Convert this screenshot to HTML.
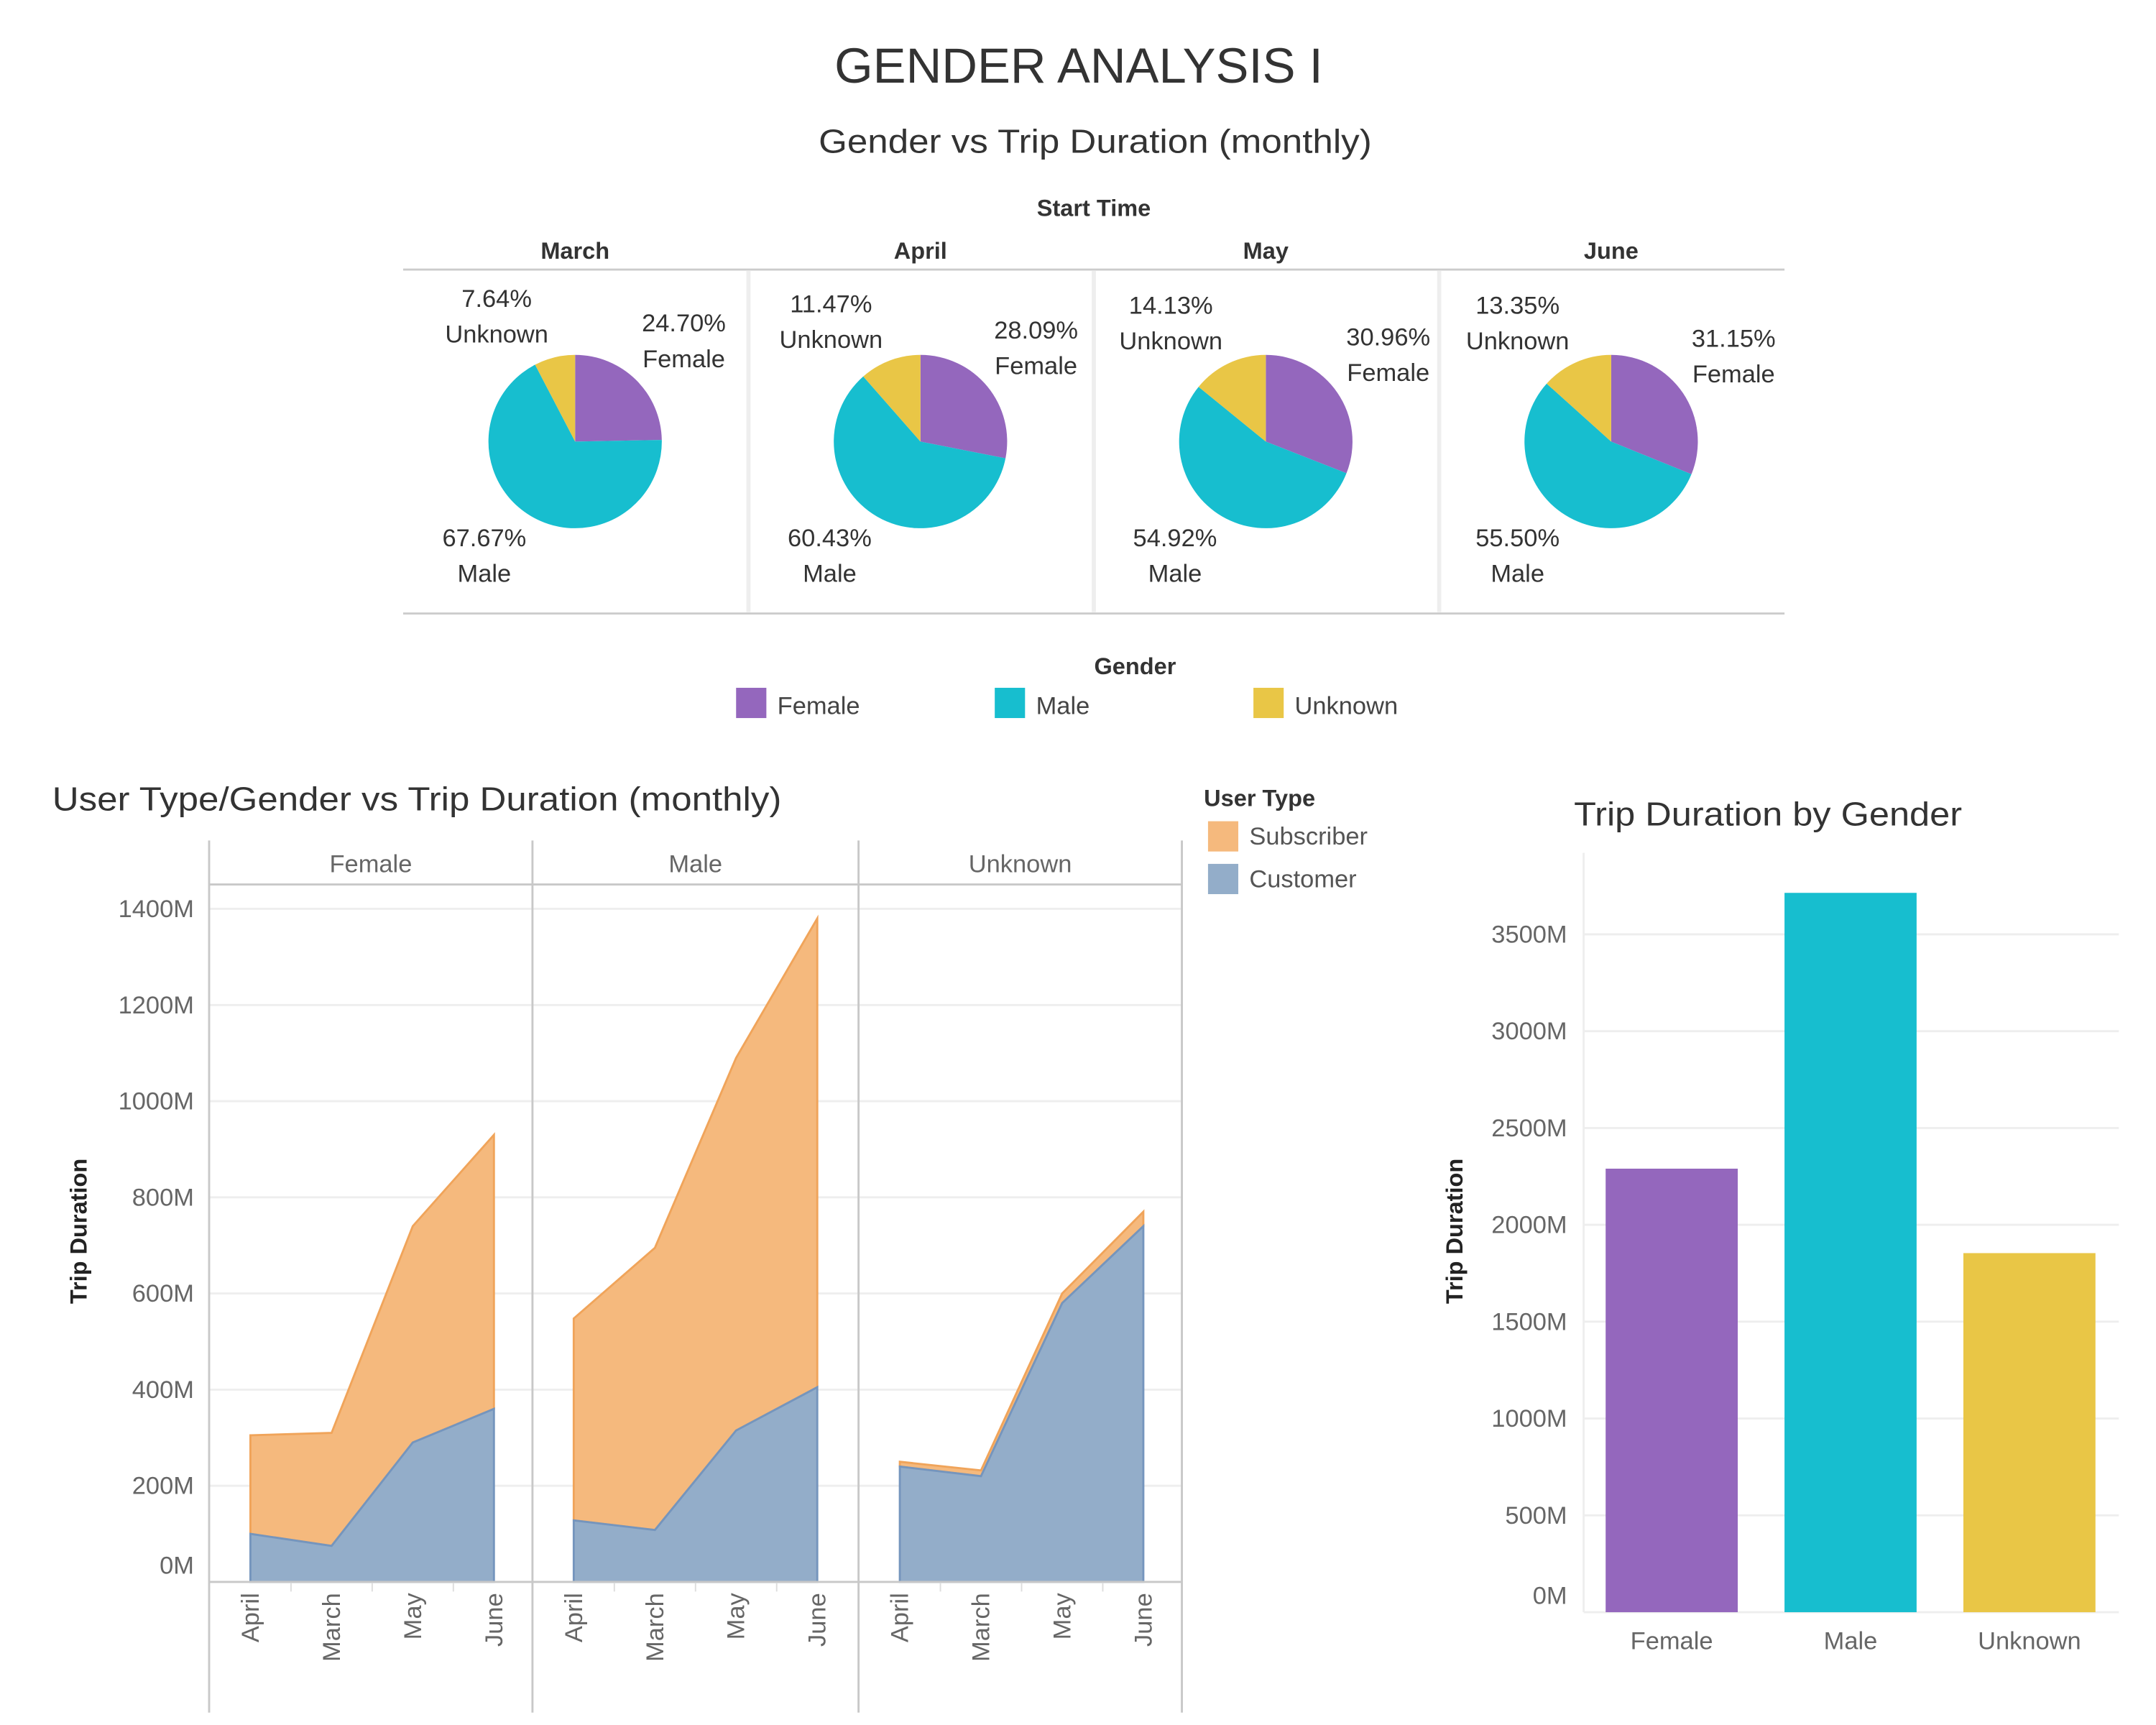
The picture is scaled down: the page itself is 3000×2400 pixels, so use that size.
<!DOCTYPE html>
<html><head><meta charset="utf-8"><style>
html,body{margin:0;padding:0;background:#fff;}
svg{display:block;font-family:"Liberation Sans",sans-serif;}
</style></head><body>
<svg id="s" width="3000" height="2400" viewBox="0 0 1567 1254" preserveAspectRatio="none" xmlns="http://www.w3.org/2000/svg">
<text x="784" y="60" text-anchor="middle" font-size="36" fill="#333" textLength="355" lengthAdjust="spacingAndGlyphs">GENDER ANALYSIS I</text>
<text x="796" y="111" text-anchor="middle" font-size="24" fill="#333" textLength="402" lengthAdjust="spacingAndGlyphs">Gender vs Trip Duration (monthly)</text>
<text x="795" y="157" text-anchor="middle" font-size="17" font-weight="bold" fill="#333">Start Time</text>
<g id="pies"></g>
<text x="825" y="490" text-anchor="middle" font-size="17" font-weight="bold" fill="#333">Gender</text>
<g>
<rect x="535" y="500" width="22" height="22" fill="#9467bd"/>
<text x="565" y="519" font-size="18" fill="#444">Female</text>
<rect x="723" y="500" width="22" height="22" fill="#17becf"/>
<text x="753" y="519" font-size="18" fill="#444">Male</text>
<rect x="911" y="500" width="22" height="22" fill="#e9c646"/>
<text x="941" y="519" font-size="18" fill="#444">Unknown</text>
</g>
<text x="38" y="589" font-size="24" fill="#333" textLength="530" lengthAdjust="spacingAndGlyphs">User Type/Gender vs Trip Duration (monthly)</text>
<g id="area"></g>
<text x="875" y="586" font-size="17" font-weight="bold" fill="#333">User Type</text>
<rect x="878" y="597" width="22" height="22" fill="#f5b97d"/>
<text x="908" y="614" font-size="18" fill="#555">Subscriber</text>
<rect x="878" y="628" width="22" height="22" fill="#93adc9"/>
<text x="908" y="645" font-size="18" fill="#555">Customer</text>
<text x="1285" y="600" text-anchor="middle" font-size="24" fill="#333" textLength="282" lengthAdjust="spacingAndGlyphs">Trip Duration by Gender</text>
<g id="bars"></g>
</svg>
<script>
const pieMonths=["March","April","May","June"];
const pieFemale=[24.70,28.09,30.96,31.15];
const pieMale=[67.67,60.43,54.92,55.50];
const pieUnknown=[7.64,11.47,14.13,13.35];

const areaGenders=["Female","Male","Unknown"];
const areaMonths=["April","March","May","June"];
const customerVals=[[100,75,290,360],[128,108,315,405],[240,220,580,740]];
const subscriberVals=[[205,235,450,570],[420,587,775,975],[10,12,20,30]];
const areaTicks=[0,200,400,600,800,1000,1200,1400];

const barCats=["Female","Male","Unknown"];
const barVals=[2290,3714,1854];
const barTicks=[0,500,1000,1500,2000,2500,3000,3500];

const NS="http://www.w3.org/2000/svg";
function mk(tag,attrs,parent,txt){const e=document.createElementNS(NS,tag);for(const k in attrs)e.setAttribute(k,attrs[k]);if(txt!==undefined)e.textContent=txt;parent.appendChild(e);return e;}

// Pies
const pg=document.getElementById('pies');
let l=mk('line',{x1:293,y1:196,x2:1297,y2:196,stroke:'#ccc','stroke-width':1.5},pg);


l=mk('line',{x1:293,y1:446,x2:1297,y2:446,stroke:'#ccc','stroke-width':1.5},pg);


const pieColors=["#9467bd","#17becf","#e9c646"];
const labelOff=[[[-57,-98],[79,-80],[-66,76]],[[-65,-94],[84,-75],[-66,76]],[[-69,-93],[89,-70],[-66,76]],[[-68,-93],[89,-69],[-68,76]]];
pieMonths.forEach((m,i)=>{
  const cx=418+i*251, cy=321, r=63;
  if(i>0){const s=mk('line',{x1:293+i*251,y1:197,x2:293+i*251,y2:445,stroke:'#eee','stroke-width':3},pg);
    
    }
  const h=mk('text',{x:cx,y:188,'text-anchor':'middle','font-size':17,'font-weight':'bold',fill:'#333'},pg,m);
  
  
  const vals=[pieFemale[i],pieMale[i],pieUnknown[i]];
  const tot=vals.reduce((a,b)=>a+b,0);
  let a0=0;
  vals.forEach((v,k)=>{
    const a1=a0+v/tot*2*Math.PI;
    const x0=cx+r*Math.sin(a0),y0=cy-r*Math.cos(a0),x1=cx+r*Math.sin(a1),y1=cy-r*Math.cos(a1);
    const p=mk('path',{d:`M${cx},${cy}L${x0},${y0}A${r},${r} 0 ${a1-a0>Math.PI?1:0} 1 ${x1},${y1}Z`,fill:pieColors[k]},pg);
    
    
    a0=a1;
  });
  const names=["Female","Male","Unknown"];
  [[2,0],[0,1],[1,2]].forEach(([k,o])=>{
    const off=labelOff[i][o];
    const t1=mk('text',{x:cx+off[0],y:cy+off[1],'text-anchor':'middle','font-size':18,fill:'#333'},pg,vals[k].toFixed(2)+'%');
    
    
    const t2=mk('text',{x:cx+off[0],y:cy+off[1]+26,'text-anchor':'middle','font-size':18,fill:'#333'},pg,names[k]);
    
    
  });
});

// Area chart
const ag=document.getElementById('area');
const y0px=1150, perM=69.9/200;
const yA=v=>y0px-v*perM;
const panelX=[152,387,624,859];
areaTicks.forEach(t=>{
  const g=mk('line',{x1:152,x2:859,y1:yA(t),y2:yA(t),stroke:'#eee','stroke-width':1.5},ag);
  
  
  const tx=mk('text',{x:141,y:(t===0?yA(t)-6:yA(t)+6),'text-anchor':'end','font-size':18,fill:'#666'},ag,t+'M');
  
  
});
const at=mk('text',{transform:'translate(63,895) rotate(-90)','text-anchor':'middle','font-size':17,'font-weight':'bold',fill:'#222'},ag,'Trip Duration');


areaGenders.forEach((gname,gi)=>{
  const px=panelX[gi];
  const xs=areaMonths.map((m,mi)=>px+30+mi*59);
  const cust=customerVals[gi], tot=cust.map((c,mi)=>c+subscriberVals[gi][mi]);
  let d='M'+xs.map((x,mi)=>x+','+yA(tot[mi])).join('L')+'L'+xs.slice().reverse().map((x,j)=>x+','+yA(cust[3-j])).join('L')+'Z';
  const sp=mk('path',{d,fill:'#f5b97d',stroke:'#f0a45a','stroke-width':1.5},ag);
  
  
  d='M'+xs.map((x,mi)=>x+','+yA(cust[mi])).join('L')+`L${xs[3]},${yA(0)}L${xs[0]},${yA(0)}Z`;
  const cp=mk('path',{d,fill:'#93adc9',stroke:'#7595bd','stroke-width':1.5},ag);
  
  
  const hd=mk('text',{x:(px+panelX[gi+1])/2,y:634,'text-anchor':'middle','font-size':18,fill:'#666'},ag,gname);
  
  
  areaMonths.forEach((m,mi)=>{
    const lt=mk('text',{transform:`translate(${xs[mi]+6},1158) rotate(-90)`,'text-anchor':'end','font-size':18,fill:'#666'},ag,m);
    
    
    if(mi>0){const tk=mk('line',{x1:xs[mi]-29.5,x2:xs[mi]-29.5,y1:1151,y2:1157,stroke:'#ddd'},ag);
      
      }
  });
});
panelX.forEach(x=>{
  const v=mk('line',{x1:x,x2:x,y1:611,y2:1245,stroke:'#c8c8c8','stroke-width':1.5},ag);
  
  
});
l=mk('line',{x1:152,x2:859,y1:643,y2:643,stroke:'#c8c8c8','stroke-width':1.5},ag);


l=mk('line',{x1:152,x2:859,y1:1150,y2:1150,stroke:'#c8c8c8','stroke-width':1.5},ag);



// Bar chart
const bg=document.getElementById('bars');
const yB=v=>1172-v*70.4/500;
barTicks.forEach(t=>{
  const g=mk('line',{x1:1151,x2:1540,y1:yB(t),y2:yB(t),stroke:'#eee','stroke-width':1.5},bg);
  
  
  const tx=mk('text',{x:1139,y:(t===0?yB(t)-6:yB(t)+6),'text-anchor':'end','font-size':18,fill:'#666'},bg,t+'M');
  
  
});
l=mk('line',{x1:1151,x2:1151,y1:620,y2:1172,stroke:'#eee','stroke-width':1.5},bg);


const bt=mk('text',{transform:'translate(1063,895) rotate(-90)','text-anchor':'middle','font-size':17,'font-weight':'bold',fill:'#222'},bg,'Trip Duration');


barCats.forEach((c,i)=>{
  const x=1167+i*130;
  const r=mk('rect',{x,y:yB(barVals[i]),width:96,height:yB(0)-yB(barVals[i]),fill:pieColors[i]},bg);
  
  
  const t=mk('text',{x:x+48,y:1199,'text-anchor':'middle','font-size':18,fill:'#666'},bg,c);
  
  
});
</script>
</body></html>
